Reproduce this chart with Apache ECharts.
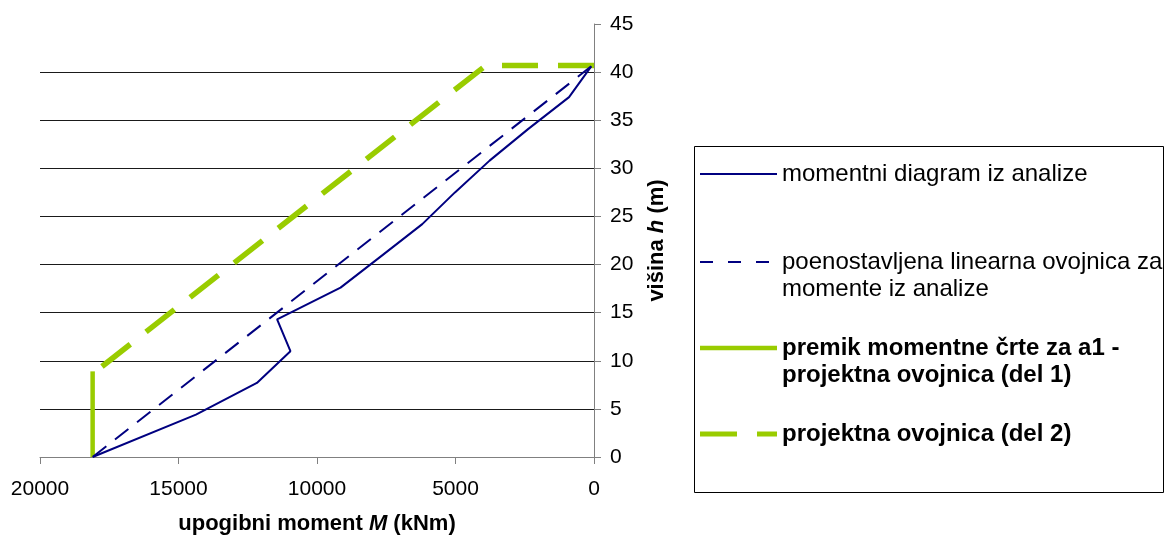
<!DOCTYPE html>
<html>
<head>
<meta charset="utf-8">
<script src="https://cdn.jsdelivr.net/npm/echarts@6/dist/echarts.min.js"></script>
<style>
  html, body { margin: 0; padding: 0; background: #fff; }
  #chart { width: 1166px; height: 537px; }
</style>
</head>
<body>
<div id="chart"></div>
<script>
// Bending moment M (kNm) against height h (m)
const seriesNames = [
  'momentni diagram iz analize',
  'poenostavljena linearna ovojnica za\nmomente iz analize',
  'premik momentne črte za a1 -\nprojektna ovojnica (del 1)',
  'projektna ovojnica (del 2)'
];

// moment diagram from the analysis: [M, h]
const analysisMoment = [
  [18100, 0], [14370, 4.4], [12170, 7.7], [10960, 11.0], [11440, 14.3],
  [9150, 17.6], [7670, 20.9], [6200, 24.2], [5020, 27.5], [3770, 30.8],
  [2370, 34.1], [900, 37.4], [100, 40.6]
];
// simplified linear envelope (listed from the top down)
const linearEnvelope = [[100, 40.6], [18100, 0]];
// design envelope part 1 (shift of the moment line by a1)
const designPart1 = [[18100, 0], [18100, 8.9]];
// design envelope part 2 (listed from the top down)
const designPart2 = [[0, 40.7], [3900, 40.7], [17900, 9.1]];

const xTicks = { min: 0, max: 20000, interval: 5000 };
const yTicks = { min: 0, max: 45, interval: 5 };

const FONT = "'Liberation Sans', Arial, sans-serif";
const NAVY = '#000080';
const LIME = '#99CC00';

const chart = echarts.init(document.getElementById('chart'), null, { renderer: 'canvas' });

function legendFor(name, centerY, bold, twoLines, lineStyle) {
  const lh = 27;
  return {
    show: true,
    orient: 'vertical',
    left: 700 - lineStyle.width / 2,
    top: twoLines ? centerY - 1.5 * lh : centerY - lh / 2,
    padding: 0,
    itemWidth: 77,
    itemHeight: 14,
    itemGap: 0,
    data: [name],
    selectedMode: false,
    itemStyle: { color: 'rgba(0,0,0,0)', borderWidth: 0, opacity: 0 },
    lineStyle: lineStyle,
    formatter: function (n) { return twoLines ? '\n' + n : n; },
    textStyle: {
      fontFamily: FONT,
      fontSize: 24,
      color: '#000',
      fontWeight: bold ? 'bold' : 'normal',
      lineHeight: lh,
      padding: [0, 0, 0, 0]
    }
  };
}

const plainNumber = function (v) { return String(v); };

const option = {
  backgroundColor: '#fff',
  animation: false,
  grid: { left: 40, right: 572, top: 24, bottom: 80, containLabel: false, outerBoundsMode: 'none' },
  legend: [
    legendFor(seriesNames[0], 174, false, false, { width: 2 }),
    legendFor(seriesNames[1], 262, false, true, { width: 2, type: [13, 15] }),
    legendFor(seriesNames[2], 348, true, true, { width: 4.5 }),
    legendFor(seriesNames[3], 434, true, false, { width: 5, type: [37, 20] })
  ],
  graphic: [{
    type: 'rect',
    shape: { x: 694.5, y: 146.5, width: 469, height: 346 },
    style: { fill: 'none', stroke: '#000', lineWidth: 1 },
    z: 0
  }],
  xAxis: {
    type: 'value',
    inverse: true,
    min: xTicks.min, max: xTicks.max, interval: xTicks.interval,
    name: '{b|upogibni moment }{i|M}{b| (kNm)}',
    nameLocation: 'middle',
    nameGap: 56,
    nameTextStyle: {
      rich: {
        b: { fontFamily: FONT, fontSize: 22, fontWeight: 'bold', color: '#000' },
        i: { fontFamily: FONT, fontSize: 22, fontWeight: 'bold', fontStyle: 'italic', color: '#000' }
      }
    },
    axisLine: { show: true, onZero: false, lineStyle: { color: '#808080', width: 1 } },
    axisTick: { show: true, inside: false, length: 7, lineStyle: { color: '#808080' } },
    axisLabel: { margin: 22, fontFamily: FONT, fontSize: 21, color: '#000', formatter: plainNumber },
    splitLine: { show: false }
  },
  yAxis: {
    type: 'value',
    position: 'right',
    min: yTicks.min, max: yTicks.max, interval: yTicks.interval,
    name: '{b|višina }{i|h}{b| (m)}',
    nameLocation: 'middle',
    nameRotate: 90,
    nameGap: 52,
    nameTextStyle: {
      rich: {
        b: { fontFamily: FONT, fontSize: 22, fontWeight: 'bold', color: '#000' },
        i: { fontFamily: FONT, fontSize: 22, fontWeight: 'bold', fontStyle: 'italic', color: '#000' }
      }
    },
    axisLine: { show: true, onZero: false, lineStyle: { color: '#808080', width: 1 } },
    axisTick: { show: true, inside: false, length: 7, lineStyle: { color: '#808080' } },
    axisLabel: { margin: 16, fontFamily: FONT, fontSize: 21, color: '#000', formatter: plainNumber },
    splitLine: {
      show: true,
      showMinLine: false,
      showMaxLine: false,
      lineStyle: { color: '#1a1a1a', width: 1 }
    }
  },
  series: [
    {
      name: seriesNames[0], type: 'line', data: analysisMoment,
      symbol: 'none', clip: false, z: 3,
      lineStyle: { color: NAVY, width: 2 }, itemStyle: { color: NAVY }
    },
    {
      name: seriesNames[1], type: 'line', data: linearEnvelope,
      symbol: 'none', clip: false, z: 3,
      lineStyle: { color: NAVY, width: 2, type: [17, 11] }, itemStyle: { color: NAVY }
    },
    {
      name: seriesNames[2], type: 'line', data: designPart1,
      symbol: 'none', clip: false, z: 2,
      lineStyle: { color: LIME, width: 4.5 }, itemStyle: { color: LIME }
    },
    {
      name: seriesNames[3], type: 'line', data: designPart2,
      symbol: 'none', clip: false, z: 2,
      lineStyle: { color: LIME, width: 5.5, type: [36, 20] }, itemStyle: { color: LIME }
    }
  ]
};

chart.setOption(option);
</script>
</body>
</html>
